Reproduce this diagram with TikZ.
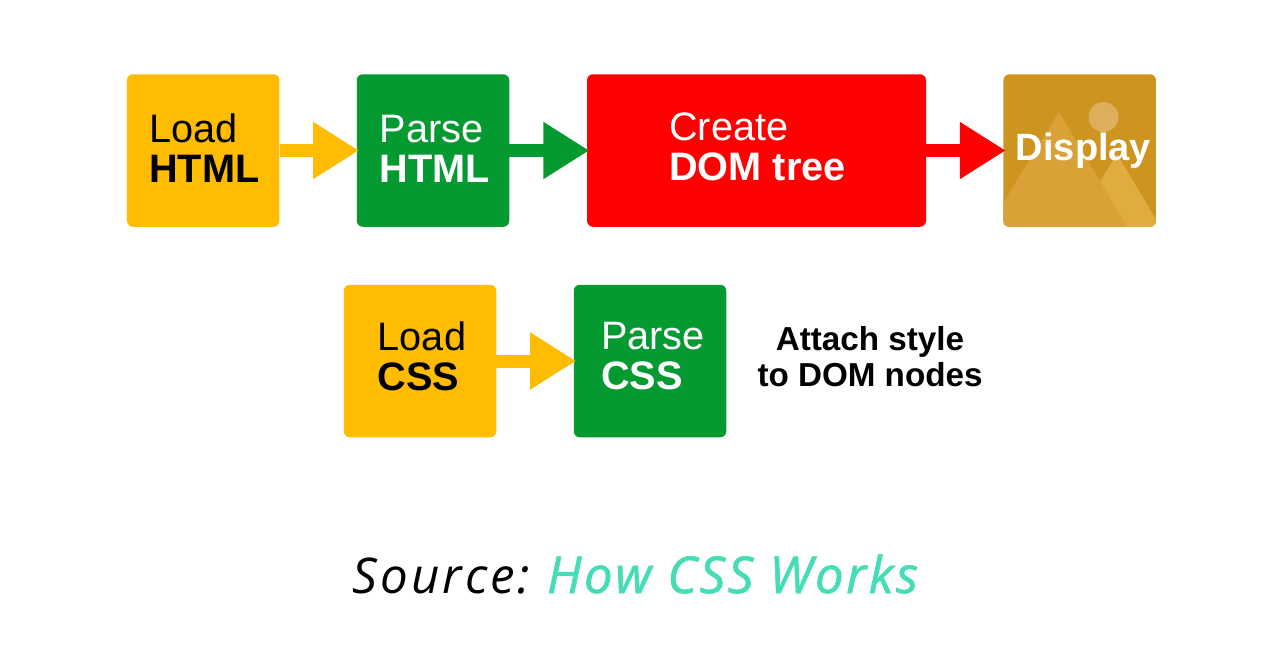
\documentclass[tikz,border=0pt]{standalone}
\usepackage{fontspec}
\usetikzlibrary{arrows.meta}
\setmainfont{Liberation Sans}
\newfontfamily\srcfont[LetterSpace=6]{Open Sans}
\newfontfamily\srcsemi[LetterSpace=5,FakeBold=1.2]{Open Sans}
\definecolor{cyellow}{HTML}{FFBC00}
\definecolor{cgreen}{HTML}{049A31}
\definecolor{cred}{HTML}{FF0000}
\definecolor{cgold}{HTML}{CE9420}
\definecolor{cmounta}{HTML}{D9A136}
\definecolor{cmountb}{HTML}{E0AC40}
\definecolor{cmoon}{HTML}{DDAF5C}
\definecolor{cteal}{HTML}{45DDB5}
\newcommand{\twolines}[3]{\hspace*{#1}#2\\\hspace*{#1}\textbf{#3}}
\tikzset{
  stepbox/.style={rectangle,rounded corners=6pt,inner sep=0pt,minimum width=152.5pt,minimum height=152.5pt,align=left,font=\fontsize{39.7}{40}\selectfont},
  flow/.style={line width=13pt,shorten >=-2.5pt,-{Triangle[length=46pt,width=54pt]}},
  caption/.style={inner sep=0pt,align=center,font=\fontsize{33.2}{36}\selectfont\bfseries},
}
\begin{document}
\begin{tikzpicture}[x=1pt,y=-1pt]
\fill[white] (0,0) rectangle (1280,662);
\useasboundingbox (0,0) rectangle (1280,662);
\node[stepbox,fill=cyellow,text=black,text depth=4pt] (loadh) at (203.2,150.5) {\twolines{2pt}{Load}{HTML}};
\node[stepbox,fill=cgreen,text=white,text depth=4pt] (parseh) at (433,150.5) {\twolines{4pt}{Parse}{HTML}};
\node[stepbox,fill=cred,text=white,minimum width=339pt,text depth=7pt] (dom) at (756.5,150.5) {\twolines{2pt}{Create}{DOM tree}};
\node[stepbox,fill=cgold] (disp) at (1079.7,150.5) {};
\begin{scope}
\clip[rounded corners=6pt] (disp.south west) rectangle (disp.north east);
\fill[cmountb] (1117,154) -- (1160,226) -- (1160,230) -- (1070,230) -- cycle;
\fill[cmounta] (1059,112) -- (1130,232) -- (1000,232) -- (1000,208) -- cycle;
\fill[cmoon] (1103.5,117) circle (15);
\end{scope}
\node[inner sep=0pt,text=white,font=\fontsize{38}{40}\selectfont\bfseries] (disptxt) at (1083.5,151) {Display};
\node[stepbox,fill=cyellow,text=black,text depth=10pt] (loadc) at (420,361) {\twolines{4pt}{Load}{CSS}};
\node[stepbox,fill=cgreen,text=white,text depth=10pt] (parsec) at (650,361) {\twolines{6pt}{Parse}{CSS}};
\node[caption] (attach) at (870,357) {Attach style\\to DOM nodes};
\node[inner sep=0pt,anchor=base,font=\fontsize{49.2}{50}\selectfont\srcfont\itshape] (src) at (635.5,593) {Source: \hspace*{-4pt}\textcolor{cteal}{\fontsize{50.8}{50}\selectfont\srcsemi\itshape How CSS Works}};
\draw[flow,cyellow] (loadh) -- (parseh);
\draw[flow,cgreen] (parseh) -- (dom);
\draw[flow,cred] (dom) -- (disp);
\draw[flow,cyellow] (loadc) -- (parsec);
\end{tikzpicture}
\end{document}
